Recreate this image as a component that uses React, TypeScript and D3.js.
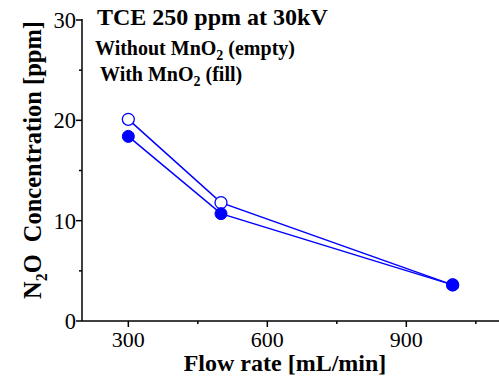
import React from "react";
import * as d3 from "d3";

const flowRates = [300, 500, 1000];
const withoutMnO2 = [20.1, 11.8, 3.6];
const withMnO2 = [18.4, 10.7, 3.6];
const withErr = [0.5, 0.3, 0.2];
const xMajorTicks = [300, 600, 900];
const xMinorTicks = [450, 750, 1050];
const yMajorTicks = [0, 10, 20, 30];
const yMinorTicks = [5, 15, 25];

const W = 499, H = 376;
const left = 82, right = 499, top = 20, bottom = 321;
const font = "'Liberation Serif', 'Times New Roman', serif";
const blue = "#0000ff";

export default function App() {
  const x = d3.scaleLinear().domain([200, 1100]).range([left, right]);
  const y = d3.scaleLinear().domain([0, 30]).range([bottom, top]);
  const line = d3.line<[number, number]>().x(d => x(d[0])).y(d => y(d[1]));
  const openPts = flowRates.map((f, i) => [f, withoutMnO2[i]] as [number, number]);
  const fillPts = flowRates.map((f, i) => [f, withMnO2[i]] as [number, number]);
  return (
    <svg width={W} height={H} style={{ position: "absolute", left: 0, top: 0, background: "#fff" }}>
      <rect width={W} height={H} fill="#fff" />
      {/* axes */}
      <line x1={left} y1={top - 1} x2={left} y2={bottom} stroke="#000" strokeWidth={1.5} />
      <line x1={left} y1={bottom} x2={right} y2={bottom} stroke="#000" strokeWidth={1.5} />
      {yMajorTicks.map(t => (
        <g key={"ym" + t}>
          <line x1={left - 6} x2={left} y1={y(t)} y2={y(t)} stroke="#000" strokeWidth={1.5} />
          <text x={left - 6} y={y(t) + 8} textAnchor="end" fontFamily={font} fontSize={22.5}>{t}</text>
        </g>
      ))}
      {yMinorTicks.map(t => (
        <line key={"yn" + t} x1={left - 3} x2={left} y1={y(t)} y2={y(t)} stroke="#000" strokeWidth={1.5} />
      ))}
      {xMajorTicks.map(t => (
        <g key={"xm" + t}>
          <line x1={x(t)} x2={x(t)} y1={bottom} y2={bottom + 6} stroke="#000" strokeWidth={1.5} />
          <text x={x(t)} y={bottom + 26} textAnchor="middle" fontFamily={font} fontSize={22}>{t}</text>
        </g>
      ))}
      {xMinorTicks.map(t => (
        <line key={"xn" + t} x1={x(t)} x2={x(t)} y1={bottom} y2={bottom + 3} stroke="#000" strokeWidth={1.5} />
      ))}
      {/* axis labels */}
      <text x={285} y={371} textAnchor="middle" fontFamily={font} fontSize={24} fontWeight="bold">Flow rate [mL/min]</text>
      <text transform={`translate(41, 160) rotate(-90)`} textAnchor="middle" fontFamily={font} fontSize={24.5} fontWeight="bold">
        N<tspan dy={6} fontSize={16}>2</tspan><tspan dy={-6}>O</tspan><tspan dx={12}>Concentration [ppm]</tspan>
      </text>
      {/* annotations */}
      <text x={97} y={25} fontFamily={font} fontSize={24} fontWeight="bold">TCE 250 ppm at 30kV</text>
      <text x={95} y={55} fontFamily={font} fontSize={20} fontWeight="bold">
        Without MnO<tspan dy={5} fontSize={14}>2</tspan><tspan dy={-5}> (empty)</tspan>
      </text>
      <text x={100} y={81} fontFamily={font} fontSize={20} fontWeight="bold">
        With MnO<tspan dy={5} fontSize={14}>2</tspan><tspan dy={-5}> (fill)</tspan>
      </text>
      {/* lines */}
      <path d={line(openPts) || ""} fill="none" stroke={blue} strokeWidth={1.5} />
      <path d={line(fillPts) || ""} fill="none" stroke={blue} strokeWidth={1.5} />
      {/* error bars */}
      {fillPts.map((p, i) => (
        <line key={"e" + i} x1={x(p[0])} x2={x(p[0])} y1={y(p[1] - withErr[i])} y2={y(p[1] + withErr[i])} stroke={blue} strokeWidth={1.5} />
      ))}
      {/* markers */}
      {openPts.map((p, i) => (
        <circle key={"o" + i} cx={x(p[0])} cy={y(p[1])} r={6} fill="#fff" stroke={blue} strokeWidth={1.3} />
      ))}
      {fillPts.map((p, i) => (
        <circle key={"f" + i} cx={x(p[0])} cy={y(p[1])} r={6} fill={blue} stroke={blue} strokeWidth={1} />
      ))}
    </svg>
  );
}
